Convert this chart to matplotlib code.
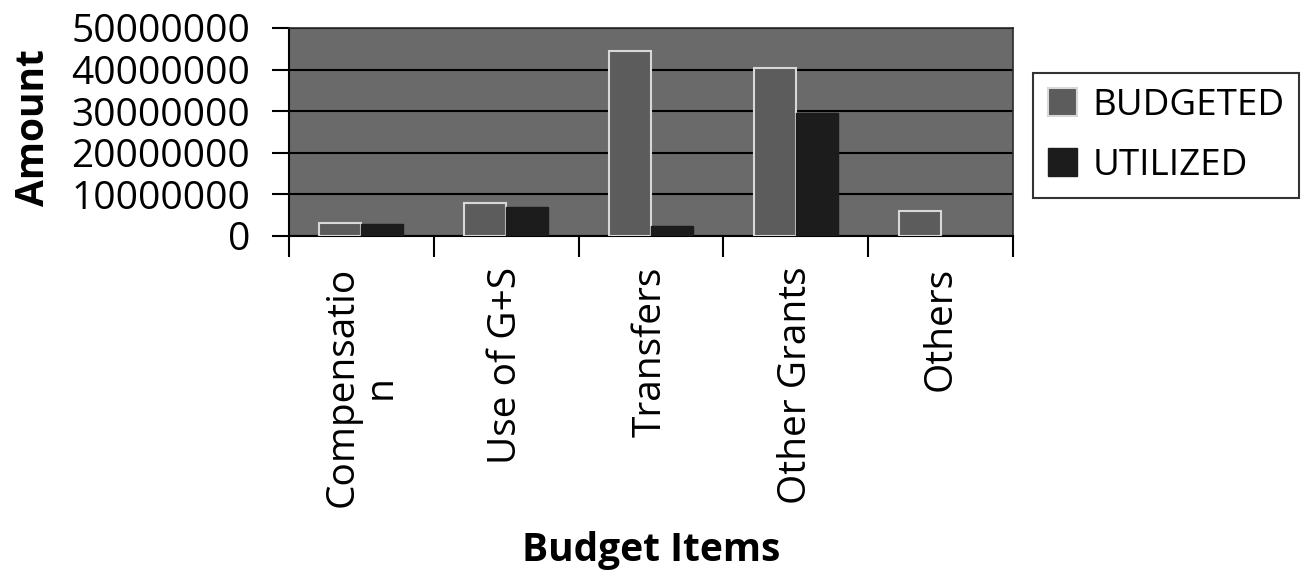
import numpy as np
import matplotlib.pyplot as plt

# Budget items and amounts
items = ['Compensatio\nn', 'Use of G+S', 'Transfers', 'Other Grants', 'Others']
budgeted = [3200000, 8000000, 44500000, 40500000, 6000000]
utilized = [3000000, 7000000, 2500000, 29500000, 0]

plt.rcParams['font.family'] = ['Open Sans', 'DejaVu Sans']

fig = plt.figure(figsize=(13.08, 5.71), dpi=100)
ax = fig.add_axes([0.221, 0.5867, 0.5535, 0.3643])

x = np.arange(len(items))
w = 0.29
ax.bar(x - w / 2, budgeted, w, color='#5c5c5c', edgecolor='#d8d8d8', linewidth=1.5,
       label='BUDGETED', zorder=3)
ax.bar(x + w / 2, utilized, w, color='#1c1c1c', edgecolor='#1c1c1c', linewidth=1,
       label='UTILIZED', zorder=3)

ax.set_facecolor('#6a6a6a')
ax.set_xlim(-0.5, len(items) - 0.5)
ax.set_ylim(0, 50000000)
ax.set_yticks(np.arange(0, 50000001, 10000000))
ax.set_yticklabels([str(v) for v in range(0, 50000001, 10000000)], fontsize=28)
ax.yaxis.grid(True, color='black', linewidth=1.5, zorder=1)
ax.set_axisbelow(True)

ax.set_xticks(x)
ax.set_xticklabels(items, rotation=90, fontsize=28, va='top', linespacing=1.0)
# category boundary ticks like Excel
ax.set_xticks(np.arange(-0.5, len(items)), minor=True)
ax.tick_params(axis='x', which='major', length=0, pad=22)
ax.tick_params(axis='x', which='minor', length=15, width=1.5, direction='out')
ax.tick_params(axis='y', length=12, width=1.5, direction='out', pad=16)

for s in ['top', 'right']:
    ax.spines[s].set_color('#2a2a2a')
    ax.spines[s].set_linewidth(1.2)
ax.spines['left'].set_linewidth(1.5)
ax.spines['bottom'].set_linewidth(1.5)

# axis titles placed like the Excel chart
fig.text(33 / 1308, 1 - 128 / 571, 'Amount', rotation=90, fontsize=28,
         fontweight='bold', ha='center', va='center')
fig.text(651 / 1308, 1 - 550 / 571, 'Budget Items', fontsize=28,
         fontweight='bold', ha='center', va='center')

leg = ax.legend(loc='upper left', bbox_to_anchor=(1.028, 0.784), borderaxespad=0,
                fontsize=26.5, frameon=True, fancybox=False, edgecolor='black',
                handlelength=0.8, handleheight=0.8, handletextpad=0.4,
                borderpad=0.4, labelspacing=0.65)
leg.get_frame().set_linewidth(1.5)

fig.savefig('out.png', dpi=100)
